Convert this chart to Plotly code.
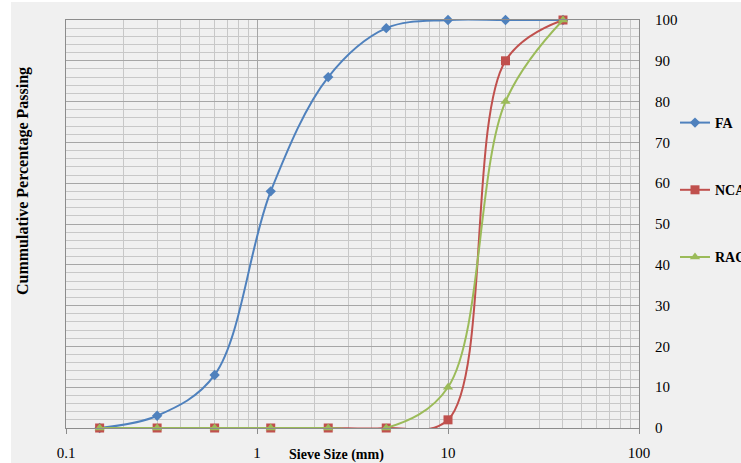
import plotly.graph_objects as go

sieve = [0.15, 0.3, 0.6, 1.18, 2.36, 4.75, 10, 20, 40]
fa = [0, 3, 13, 58, 86, 98, 100, 100, 100]
nca = [0, 0, 0, 0, 0, 0, 2, 90, 100]
rac = [0, 0, 0, 0, 0, 0, 10, 80, 100]
x_ticks = [0.1, 1, 10, 100]
x_labels = ["0.1", "1", "10", "100"]

SERIF = "Liberation Serif, Times New Roman, serif"
BG = "#F0F0F0"

W, H = 741, 463
L, R, T, B = 66, 102, 20, 35
pw, ph = W - L - R, H - T - B

def px_x(p):
    return (p - L) / pw

def px_y(p):
    return (H - B - p) / ph

fig = go.Figure()
series = [
    ("FA", fa, "#4F81BD", "diamond", 8),
    ("NCA", nca, "#C0504D", "square", 9),
    ("RAC", rac, "#9BBB59", "triangle-up", 9),
]
for name, vals, col, sym, sz in series:
    fig.add_trace(go.Scatter(
        x=sieve, y=vals, name=name, mode="lines+markers",
        line=dict(color=col, width=2, shape="spline", smoothing=1.0),
        marker=dict(color=col, symbol=sym, size=sz),
        legendgroup=name, cliponaxis=False,
    ))

fig.update_layout(
    width=W, height=H,
    margin=dict(l=L, r=R, t=T, b=B, autoexpand=False),
    paper_bgcolor=BG, plot_bgcolor=BG,
    font=dict(family=SERIF, size=15, color="#000000"),
    showlegend=True,
    legend=dict(
        xref="container", yref="container",
        x=675 / W, y=(H - 107) / H, xanchor="left", yanchor="top",
        bgcolor="rgba(0,0,0,0)", tracegroupgap=46,
        font=dict(family=SERIF, size=14, color="#000000", weight="bold"),
    ),
    xaxis=dict(
        type="log", range=[-1, 2],
        tickvals=x_ticks, ticktext=x_labels,
        showgrid=True, gridcolor="#A6A6A6", gridwidth=1,
        minor=dict(dtick="D1", showgrid=True, gridcolor="#C8C8C8", gridwidth=1,
                   ticks=""),
        showline=True, linecolor="#8C8C8C", mirror=True,
        ticks="outside", ticklen=5, tickcolor="#8C8C8C",
        ticklabelstandoff=6,
        zeroline=False,
    ),
    yaxis=dict(
        range=[0, 100], dtick=10, side="right",
        showgrid=True, gridcolor="#A6A6A6", gridwidth=1,
        minor=dict(dtick=2, showgrid=True, gridcolor="#C8C8C8", gridwidth=1),
        showline=True, linecolor="#8C8C8C", mirror=True,
        ticks="", ticklabelstandoff=12,
        zeroline=False,
    ),
    annotations=[
        dict(text="<b>Cummulative Percentage Passing</b>", textangle=-90,
             xref="paper", yref="paper", x=px_x(23), y=px_y(181),
             xanchor="center", yanchor="middle",
             showarrow=False, font=dict(family=SERIF, size=16)),
        dict(text="<b>Sieve Size (mm)</b>",
             xref="paper", yref="paper", x=px_x(336), y=px_y(455),
             xanchor="center", yanchor="middle",
             showarrow=False, font=dict(family=SERIF, size=14)),
    ],
    shapes=[
        dict(type="rect", xref="paper", yref="paper",
             x0=px_x(0), x1=px_x(11), y0=px_y(H), y1=px_y(0),
             fillcolor="#FFFFFF", line=dict(width=0), layer="below"),
        dict(type="rect", xref="paper", yref="paper",
             x0=px_x(0), x1=px_x(W), y0=px_y(2), y1=px_y(0),
             fillcolor="#FFFFFF", line=dict(width=0), layer="below"),
    ],
)

fig.write_html(
    "out.html",
    config={"displayModeBar": False},
    post_script="document.body.style.margin='0';document.body.style.overflow='hidden';",
)
